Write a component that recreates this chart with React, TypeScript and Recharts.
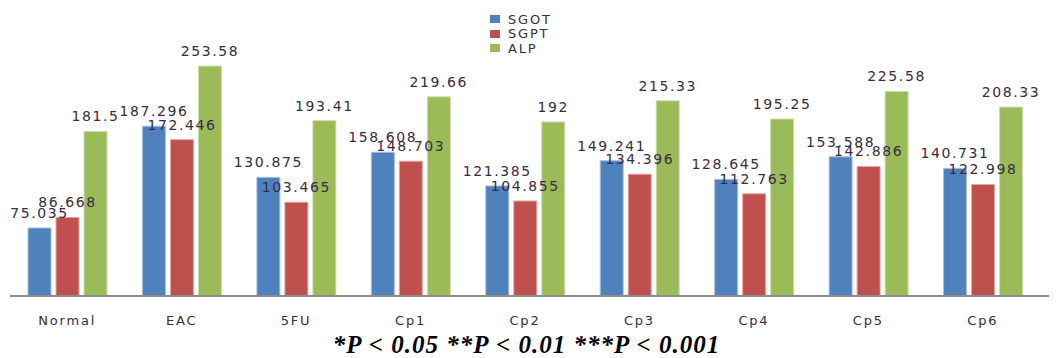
import React from "react";
import { BarChart, Bar, XAxis, YAxis, LabelList } from "recharts";

const categories = ["Normal", "EAC", "5FU", "Cp1", "Cp2", "Cp3", "Cp4", "Cp5", "Cp6"];
const sgot = [75.035, 187.296, 130.875, 158.608, 121.385, 149.241, 128.645, 153.588, 140.731];
const sgpt = [86.668, 172.446, 103.465, 148.703, 104.855, 134.396, 112.763, 142.886, 122.998];
const alp = [181.5, 253.58, 193.41, 219.66, 192, 215.33, 195.25, 225.58, 208.33];

const seriesNames = ["SGOT", "SGPT", "ALP"];
const seriesColors = ["#4F81BD", "#C0504D", "#9BBB59"];
const seriesEdges = ["#A7BFDF", "#DFA8A6", "#CDDDAC"];

const data = categories.map((name, i) => ({
  name,
  SGOT: sgot[i],
  SGPT: sgpt[i],
  ALP: alp[i],
}));

const FONT = "'DejaVu Sans', Verdana, sans-serif";
const TEXT_COLOR = "#3a2a44";

const ValueLabel = (props: any) => {
  const { x, y, width, value } = props;
  return (
    <text
      x={Number(x) + Number(width) / 2}
      y={Number(y) - 10}
      textAnchor="middle"
      fontFamily={FONT}
      fontSize={14}
      letterSpacing={1.6}
      fill={TEXT_COLOR}
    >
      {String(value)}
    </text>
  );
};

const CategoryTick = (props: any) => {
  const { x, y, payload } = props;
  return (
    <text
      x={x}
      y={y + 21}
      textAnchor="middle"
      fontFamily={FONT}
      fontSize={13}
      letterSpacing={1.8}
      fill={TEXT_COLOR}
    >
      {payload.value}
    </text>
  );
};

export default function App() {
  return (
    <div style={{ position: "relative", width: 1049, height: 350 }}>
      <BarChart
        width={1049}
        height={350}
        data={data}
        margin={{ top: 16, right: 17, bottom: 32, left: 2 }}
        barSize={23}
        barGap={5}
      >
        <XAxis
          dataKey="name"
          height={30}
          tickLine={false}
          axisLine={{ stroke: "#8c8c8c", strokeWidth: 2 }}
          tick={<CategoryTick />}
          interval={0}
        />
        <YAxis hide domain={[0, 300]} />
        {seriesNames.map((s, i) => (
          <Bar
            key={s}
            dataKey={s}
            fill={seriesColors[i]}
            stroke={seriesEdges[i]}
            strokeWidth={1}
            isAnimationActive={false}
          >
            <LabelList dataKey={s} content={<ValueLabel />} />
          </Bar>
        ))}
      </BarChart>
      {/* axis rule continues to the right edge of the figure */}
      <div
        style={{
          position: "absolute",
          left: 1032,
          top: 287,
          width: 17,
          height: 2,
          background: "#8c8c8c",
        }}
      />
      <div style={{ position: "absolute", left: 482, top: 4, fontFamily: FONT }}>
        {seriesNames.map((s, i) => (
          <div
            key={s}
            style={{ display: "flex", alignItems: "center", height: 14.5 }}
          >
            <span
              style={{
                display: "inline-block",
                width: 10,
                height: 8,
                background: seriesColors[i],
                marginRight: 8,
              }}
            />
            <span style={{ fontSize: 13, letterSpacing: 1.8, color: TEXT_COLOR }}>{s}</span>
          </div>
        ))}
      </div>
      <div
        style={{
          position: "absolute",
          left: 0,
          width: 1049,
          top: 323,
          textAlign: "center",
          fontFamily: "'Liberation Serif', 'Times New Roman', serif",
          fontWeight: "bold",
          fontStyle: "italic",
          fontSize: 25,
          letterSpacing: 1,
          lineHeight: "28px",
          color: "#000",
        }}
      >
        <span style={{ position: "relative", left: -6 }}>*P &lt; 0.05 **P &lt; 0.01 ***P &lt; 0.001</span>
      </div>
    </div>
  );
}
